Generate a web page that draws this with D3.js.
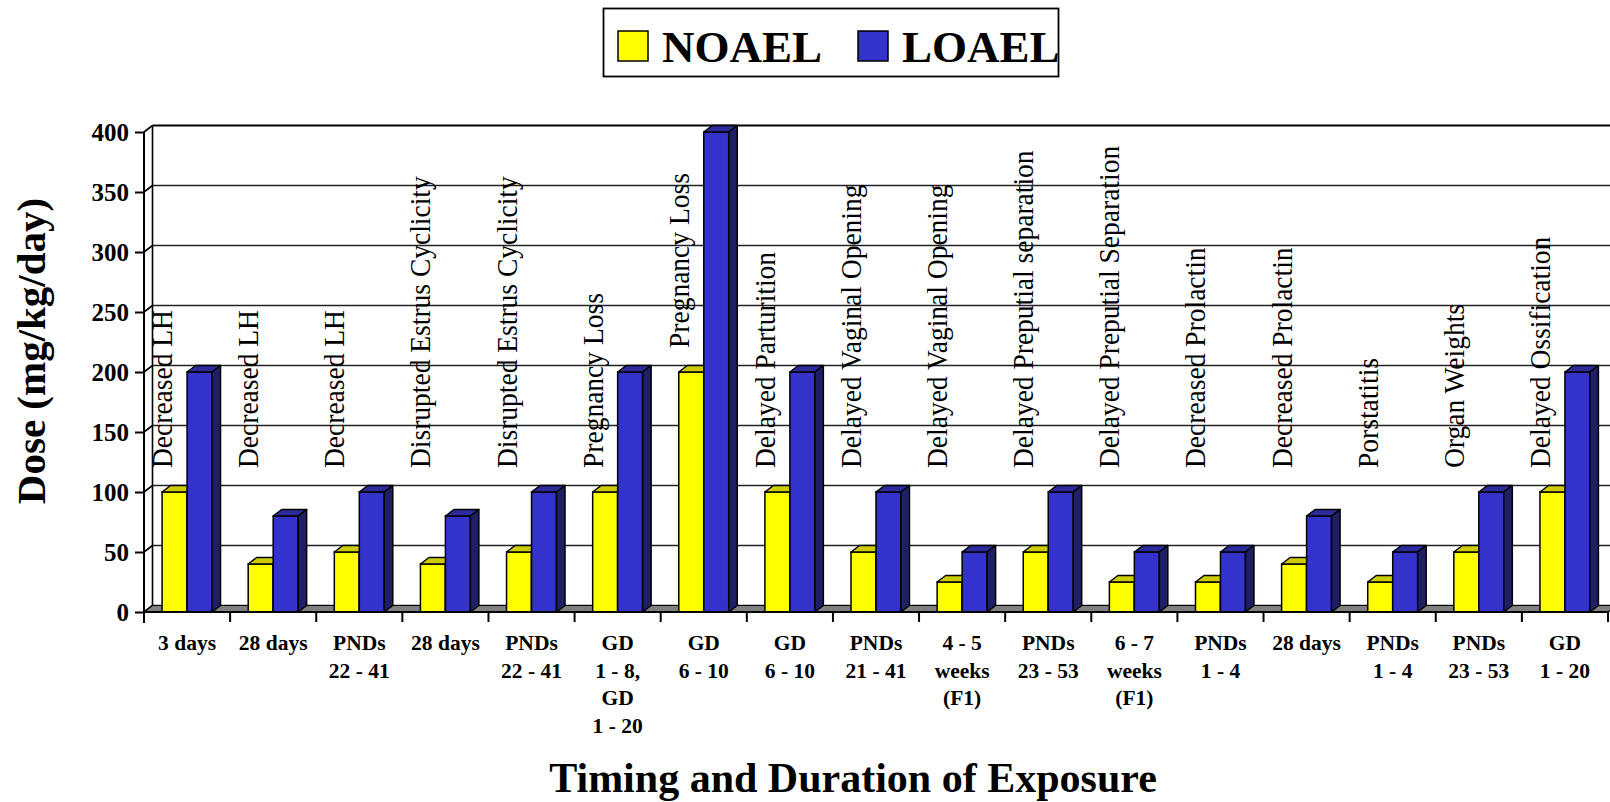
<!DOCTYPE html>
<html>
<head>
<meta charset="utf-8">
<script src="https://cdn.jsdelivr.net/npm/d3@7"></script>
<style>
    body { margin: 0; background: #ffffff; }
    svg { display: block; font-family: "Liberation Serif", "Times New Roman", serif; }
</style>
</head>
<body>
<svg id="chart" width="1610" height="802"></svg>
<script>
//数据
const categories = ["3 days", "28 days", "PNDs\n22 - 41", "28 days", "PNDs\n22 - 41",
    "GD\n1 - 8,\nGD\n1 - 20", "GD\n6 - 10", "GD\n6 - 10", "PNDs\n21 - 41", "4 - 5\nweeks\n(F1)",
    "PNDs\n23 - 53", "6 - 7\nweeks\n(F1)", "PNDs\n1 - 4", "28 days", "PNDs\n1 - 4",
    "PNDs\n23 - 53", "GD\n1 - 20"];
const effects = ["Decreased LH", "Decreased LH", "Decreased LH", "Disrupted Estrus Cyclicity",
    "Disrupted Estrus Cyclicity", "Pregnancy Loss", "Pregnancy Loss", "Delayed Parturition",
    "Delayed Vaginal Opening", "Delayed Vaginal Opening", "Delayed Preputial separation",
    "Delayed Preputial Separation", "Decreased Prolactin", "Decreased Prolactin", "Porstatitis",
    "Organ Weights", "Delayed Ossification"];
const noael = [100, 40, 50, 40, 50, 100, 200, 100, 50, 25, 50, 25, 25, 40, 25, 50, 100];
const loael = [200, 80, 100, 80, 100, 200, 400, 200, 100, 50, 100, 50, 50, 80, 50, 100, 200];
const yTicks = [0, 50, 100, 150, 200, 250, 300, 350, 400];
const seriesNames = ["NOAEL", "LOAEL"];

const svg = d3.select("#chart");

//三维偏移
const dx = 8.5, dy = -6.5;

const x = d3.scaleBand()
    .domain(d3.range(categories.length))
    .range([144, 1608]);

const y = d3.scaleLinear()
    .domain([0, 400])
    .range([612, 132]);

const bw = x.bandwidth() * 0.29;

//背景墙和网格线
function wallDraw(container) {
    let g = container.append("g").attr("class", "walls");

    //左墙
    g.append("polygon")
        .attr("points", [[144, y(0)], [144 + dx, y(0) + dy], [144 + dx, y(400) + dy], [144, y(400)]].join(" "))
        .attr("fill", "#ffffff");

    g.selectAll("line.grid")
        .data(yTicks)
        .join("line")
        .attr("class", "grid")
        .attr("x1", 144 + dx)
        .attr("x2", 1640)
        .attr("y1", d => y(d) + dy)
        .attr("y2", d => y(d) + dy)
        .attr("stroke", d => d === 400 ? "#000" : "#222")
        .attr("stroke-width", d => d === 400 ? 2.2 : 1.6);

    g.selectAll("line.diag")
        .data(yTicks)
        .join("line")
        .attr("class", "diag")
        .attr("x1", 144)
        .attr("x2", 144 + dx)
        .attr("y1", d => y(d))
        .attr("y2", d => y(d) + dy)
        .attr("stroke", "#000")
        .attr("stroke-width", 1.6);

    g.append("line")
        .attr("x1", 144 + dx).attr("x2", 144 + dx)
        .attr("y1", y(400) + dy).attr("y2", y(0) + dy)
        .attr("stroke", "#000")
        .attr("stroke-width", 1.6);

    //地板
    g.append("polygon")
        .attr("points", [[144, y(0)], [1608, y(0)], [1608 + dx, y(0) + dy], [144 + dx, y(0) + dy]].join(" "))
        .attr("fill", "#808080")
        .attr("stroke", "#000")
        .attr("stroke-width", 1.2);
}

//立体柱子
function barDraw(container, data, offset, colors) {
    let g = container.append("g")
        .selectAll("g")
        .data(data)
        .join("g");

    let x1 = (d, i) => x(i) + x.bandwidth() / 2 + offset;

    //正面
    g.append("rect")
        .attr("x", x1)
        .attr("y", d => y(d))
        .attr("width", bw)
        .attr("height", d => y(0) - y(d))
        .attr("fill", colors[0])
        .attr("stroke", "#000")
        .attr("stroke-width", 1.5);

    //顶面
    g.append("polygon")
        .attr("points", function (d, i) {
            let a = x1(d, i), t = y(d);
            return [[a, t], [a + bw, t], [a + bw + dx, t + dy], [a + dx, t + dy]].join(" ");
        })
        .attr("fill", colors[1])
        .attr("stroke", "#000")
        .attr("stroke-width", 1.5)
        .attr("stroke-linejoin", "round");

    //侧面
    g.append("polygon")
        .attr("points", function (d, i) {
            let a = x1(d, i) + bw, t = y(d);
            return [[a, t], [a + dx, t + dy], [a + dx, y(0) + dy], [a, y(0)]].join(" ");
        })
        .attr("fill", colors[2])
        .attr("stroke", "#000")
        .attr("stroke-width", 1.5)
        .attr("stroke-linejoin", "round");
}

//坐标轴
function axisDraw(container) {
    let g = container.append("g").attr("class", "axes");

    g.append("line")
        .attr("x1", 144).attr("x2", 144)
        .attr("y1", y(400)).attr("y2", y(0) + 11)
        .attr("stroke", "#000")
        .attr("stroke-width", 2);

    g.append("line")
        .attr("x1", 144).attr("x2", 1608)
        .attr("y1", y(0)).attr("y2", y(0))
        .attr("stroke", "#000")
        .attr("stroke-width", 2);

    let yAxis = d3.axisLeft(y)
        .tickValues(yTicks)
        .tickSize(9)
        .tickPadding(6);

    g.append("g")
        .attr("transform", "translate(144,0)")
        .call(yAxis)
        .call(s => s.select(".domain").remove())
        .call(s => s.selectAll(".tick line").attr("stroke", "#000").attr("stroke-width", 2))
        .call(s => s.selectAll(".tick text")
            .attr("font-family", "Liberation Serif")
            .attr("font-size", 25)
            .attr("font-weight", "bold")
            .attr("fill", "#000"));

    //类别刻度
    g.selectAll("line.xtick")
        .data(d3.range(categories.length + 1))
        .join("line")
        .attr("class", "xtick")
        .attr("x1", d => 144 + d * x.step())
        .attr("x2", d => 144 + d * x.step())
        .attr("y1", y(0))
        .attr("y2", y(0) + 10)
        .attr("stroke", "#000")
        .attr("stroke-width", 2);

    let labels = g.selectAll("text.cat")
        .data(categories)
        .join("text")
        .attr("class", "cat")
        .attr("x", (d, i) => x(i) + x.bandwidth() / 2)
        .attr("y", 650)
        .attr("text-anchor", "middle")
        .attr("font-size", 21.5)
        .attr("font-weight", "bold");

    labels.selectAll("tspan")
        .data(d => d.split("\n"))
        .join("tspan")
        .attr("x", function () {
            return this.parentNode.getAttribute("x");
        })
        .attr("dy", (d, i) => i === 0 ? 0 : 27.6)
        .text(d => d);
}

//竖排效应文字
function effectDraw(container) {
    container.append("g")
        .selectAll("text")
        .data(effects)
        .join("text")
        .attr("transform", function (d, i) {
            let cx = x(i) + x.bandwidth() / 2 - 15;
            let cy = y(Math.max(100, noael[i])) - 24;
            return `translate(${cx},${cy}) rotate(-90) scale(1,1.08)`;
        })
        .attr("font-size", 27.5)
        .attr("fill", "#000")
        .text(d => d);
}

//图例
function legendDraw(container) {
    let g = container.append("g").attr("class", "legend");
    let colors = ["#ffff00", "#3333cc"];
    let pos = [618, 858];

    g.append("rect")
        .attr("x", 603.5).attr("y", 8.5)
        .attr("width", 455).attr("height", 68)
        .attr("fill", "#fff")
        .attr("stroke", "#000")
        .attr("stroke-width", 1.8);

    g.selectAll("rect.sw")
        .data(seriesNames)
        .join("rect")
        .attr("class", "sw")
        .attr("x", (d, i) => pos[i])
        .attr("y", 31)
        .attr("width", 30)
        .attr("height", 30)
        .attr("fill", (d, i) => colors[i])
        .attr("stroke", "#000")
        .attr("stroke-width", 1.5);

    g.selectAll("text")
        .data(seriesNames)
        .join("text")
        .attr("x", (d, i) => pos[i] + 44)
        .attr("y", 62)
        .attr("font-size", 45)
        .attr("font-weight", "bold")
        .text(d => d);
}

wallDraw(svg);
barDraw(svg, noael, -bw, ["#ffff00", "#cccc00", "#999900"]);
barDraw(svg, loael, 0, ["#3333cc", "#2b2b9c", "#1f1f66"]);
axisDraw(svg);
effectDraw(svg);
legendDraw(svg);

//坐标轴标题
svg.append("text")
    .attr("transform", "translate(45,351) rotate(-90)")
    .attr("text-anchor", "middle")
    .attr("font-size", 41)
    .attr("font-weight", "bold")
    .text("Dose (mg/kg/day)");

svg.append("text")
    .attr("x", 853)
    .attr("y", 792)
    .attr("text-anchor", "middle")
    .attr("font-size", 42)
    .attr("font-weight", "bold")
    .text("Timing and Duration of Exposure");
</script>
</body>
</html>
